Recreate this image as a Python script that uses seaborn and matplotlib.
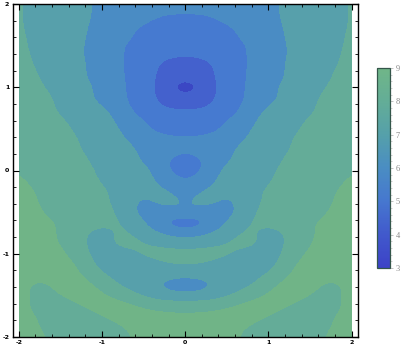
import numpy as np
import matplotlib
matplotlib.use("Agg")
import matplotlib.pyplot as plt
from matplotlib.colors import LinearSegmentedColormap, Normalize, ListedColormap, BoundaryNorm
from matplotlib.cm import ScalarMappable
from matplotlib.patches import Rectangle
from matplotlib.ticker import MultipleLocator
import seaborn as sns

# ---- data ----
x_vals = [-2.0, -1.75, -1.5, -1.25, -1.0, -0.75, -0.5, -0.25, 0.0,
          0.25, 0.5, 0.75, 1.0, 1.25, 1.5, 1.75, 2.0]
y_vals = [2.0, 1.875, 1.75, 1.625, 1.5, 1.375, 1.25, 1.125, 1.0, 0.875, 0.75,
          0.625, 0.5, 0.375, 0.25, 0.125, 0.0, -0.125, -0.25, -0.375, -0.5,
          -0.625, -0.75, -0.875, -1.0, -1.125, -1.25, -1.375, -1.5, -1.625,
          -1.75, -1.875, -2.0]
z_rows = [
    [7.7, 7, 7, 7, 6, 6, 6, 6, 6, 6, 6, 6, 6, 7, 7, 7, 7.7],
    [7.7, 7, 7, 7, 6, 6, 6, 5.5, 5.5, 5.5, 6, 6, 6, 7, 7, 7, 7.7],
    [7.7, 7, 7, 6.8, 6, 6, 5.5, 5, 5, 5, 5.5, 6, 6, 6.8, 7, 7, 7.7],
    [7.8, 7, 7, 6.7, 6, 6, 5, 5, 5, 5, 5, 6, 6, 6.7, 7, 7, 7.8],
    [7.9, 7, 7, 6.6, 6, 5.55, 5, 5, 5, 5, 5, 5.55, 6, 6.6, 7, 7, 7.9],
    [8, 7.1, 7, 6.6, 6, 5.55, 5, 4.7, 4.6, 4.7, 5, 5.55, 6, 6.6, 7, 7.1, 8],
    [8, 7.3, 7, 6.7, 6, 5.55, 5, 4.4, 4.2, 4.4, 5, 5.55, 6, 6.7, 7, 7.3, 8],
    [8, 7.5, 7, 6.7, 6, 5.55, 5, 4.3, 4.0, 4.3, 5, 5.55, 6, 6.7, 7, 7.5, 8],
    [8, 7.6, 7.2, 6.9, 6.2, 5.6, 5, 4.2, 3.3, 4.2, 5, 5.6, 6.2, 6.9, 7.2, 7.6, 8],
    [8.1, 7.8, 7.3, 6.9, 6.2, 5.6, 5, 4.3, 4.0, 4.3, 5, 5.6, 6.2, 6.9, 7.3, 7.8, 8.1],
    [8, 8, 7.3, 7, 6.65, 5.8, 5, 4.6, 4.5, 4.6, 5, 5.8, 6.65, 7, 7.3, 8, 8],
    [8, 8, 7.55, 7.2, 7.1, 6, 5.45, 5, 5, 5, 5.45, 6, 7.1, 7.2, 7.55, 8, 8],
    [8, 8, 7.8, 7.2, 7, 6.45, 5.7, 5.1, 5, 5.1, 5.7, 6.45, 7, 7.2, 7.8, 8, 8],
    [8, 8, 8, 7.4, 7, 6.6, 6, 5.8, 5.7, 5.8, 6, 6.6, 7, 7.4, 8, 8, 8],
    [8, 8, 8, 7.5, 7, 7, 6.2, 6, 5.6, 6, 6.2, 7, 7, 7.5, 8, 8, 8],
    [8.1, 8, 8, 7.8, 7, 7, 6.4, 5.6, 5, 5.6, 6.4, 7, 7, 7.8, 8, 8, 8.1],
    [8.35, 8, 8, 8, 7.2, 7, 7, 5.6, 5, 5.6, 7, 7, 7.2, 8, 8, 8, 8.35],
    [8.6, 8.1, 8, 8, 7.4, 7, 7, 6.2, 5.3, 6.2, 7, 7, 7.4, 8, 8, 8.1, 8.6],
    [8.7, 8.3, 8, 8, 7.7, 7.1, 6.55, 6.8, 6, 6.8, 6.55, 7.1, 7.7, 8, 8, 8.3, 8.7],
    [8.8, 8.35, 8, 8, 7.8, 7, 6.2, 7, 6.3, 7, 6.2, 7, 7.8, 8, 8, 8.35, 8.8],
    [8.8, 8.5, 8, 8, 8, 7.2, 6, 6, 6.6, 6, 6, 7.2, 8, 8, 8, 8.5, 8.8],
    [8.8, 8.7, 8.3, 8, 7.7, 7.6, 6.6, 5.4, 4.5, 5.4, 6.6, 7.6, 7.7, 8, 8.3, 8.7, 8.8],
    [8.8, 8.8, 8.3, 7.65, 7.1, 7.8, 7, 6.4, 6, 6.4, 7, 7.8, 7.1, 7.65, 8.3, 8.8, 8.8],
    [8.8, 8.8, 8.4, 7.65, 7, 8, 7.6, 7.2, 7, 7.2, 7.6, 8, 7, 7.65, 8.4, 8.8, 8.8],
    [8.8, 8.8, 8.7, 7.8, 7, 7, 7.7, 8, 7.9, 8, 7.7, 7, 7, 7.8, 8.7, 8.8, 8.8],
    [8.8, 8.8, 8.8, 8.3, 7, 7, 7, 7.4, 7.6, 7.4, 7, 7, 7, 8.3, 8.8, 8.8, 8.8],
    [8.8, 8.8, 8.8, 8.5, 7.6, 7, 7, 7, 7, 7, 7, 7, 7.6, 8.5, 8.8, 8.8, 8.8],
    [8.8, 8, 8.8, 8.8, 8.2, 7.3, 7, 6.2, 5.4, 6.2, 7, 7.3, 8.2, 8.8, 8.8, 8, 8.8],
    [8.8, 8, 8.4, 8.8, 8.6, 8, 7.4, 7, 7, 7, 7.4, 8, 8.6, 8.8, 8.4, 8, 8.8],
    [8.8, 8, 8, 8.4, 8.8, 8.8, 8.3, 8, 8, 8, 8.3, 8.8, 8.8, 8.4, 8, 8, 8.8],
    [8.8, 8.3, 8, 8, 8.4, 8.8, 8.8, 8.7, 8.6, 8.7, 8.8, 8.8, 8.4, 8, 8, 8.3, 8.8],
    [8.8, 8.4, 8, 8, 8, 8.4, 8.8, 8.8, 8.8, 8.8, 8.8, 8.4, 8, 8, 8, 8.4, 8.8],
    [8.8, 8.6, 8, 8, 8, 8.1, 8.8, 8.8, 8.8, 8.8, 8.8, 8.1, 8, 8, 8, 8.6, 8.8],
]
contour_levels = [3.0, 3.85, 4.6, 5.5, 6.5, 7.5, 8.4, 9.0]
band_colors = ["#3b47c4", "#4461cd", "#467ad0", "#4a8cc4",
               "#57a0ab", "#64ac98", "#70b487"]
cbar_values = [3, 4, 5, 6, 7, 8, 9]
cbar_colors = ["#3c42c7", "#4159cc", "#4677cf", "#4a8dc3",
               "#55a0aa", "#63ad97", "#70b688"]
tick_vals = [-2, -1, 0, 1, 2]

# ---- figure ----
sns.set_theme(style="white")
plt.rcParams['font.family'] = ['DejaVu Sans']

fig = plt.figure(figsize=(4.09, 3.5), dpi=100)
ax = fig.add_axes([12.7 / 409, 13.0 / 350, 345.3 / 409, 333.0 / 350])

Z = np.array(z_rows, dtype=float)
dx = abs(x_vals[1] - x_vals[0])
dy = abs(y_vals[1] - y_vals[0])
band_cmap = ListedColormap(band_colors)
band_norm = BoundaryNorm(contour_levels, band_cmap.N)
im = ax.imshow(Z, cmap=band_cmap, norm=band_norm, origin="upper",
               interpolation="bicubic", interpolation_stage="data",
               extent=[min(x_vals) - dx / 2, max(x_vals) + dx / 2,
                       min(y_vals) - dy / 2, max(y_vals) + dy / 2],
               aspect="auto")
clip = Rectangle((min(x_vals), min(y_vals)), max(x_vals) - min(x_vals),
                 max(y_vals) - min(y_vals), transform=ax.transData)
im.set_clip_path(clip)

ax.set_xlim(-2.072, 2.076)
ax.set_ylim(-2.0, 2.0)
ax.set_xticks(tick_vals)
ax.set_yticks(tick_vals)
ax.set_xticklabels([str(v) for v in tick_vals])
ax.set_yticklabels([str(v) for v in tick_vals])
ax.xaxis.set_minor_locator(MultipleLocator(0.2))
ax.yaxis.set_minor_locator(MultipleLocator(0.2))
ax.tick_params(which="both", direction="in", top=True, right=True,
               bottom=True, left=True, color="black")
ax.tick_params(which="major", length=4, width=0.8, labelsize=4.5,
               pad=2.5, labelcolor="black")
ax.tick_params(which="minor", length=2, width=0.6)
for lab in ax.get_xticklabels() + ax.get_yticklabels():
    lab.set_fontweight("bold")
for sp in ax.spines.values():
    sp.set_visible(True)
    sp.set_color("black")
    sp.set_linewidth(1.0)
ax.set_facecolor("white")

# ---- colour bar ----
cmap = LinearSegmentedColormap.from_list(
    "bar", [((v - 3) / 6.0, c) for v, c in zip(cbar_values, cbar_colors)])
cax = fig.add_axes([377.0 / 409, (350 - 268.0) / 350, 13.0 / 409, 200.0 / 350])
sm = ScalarMappable(norm=Normalize(3, 9), cmap=cmap)
cb = fig.colorbar(sm, cax=cax, ticks=cbar_values)
cb.outline.set_edgecolor("#34564a")
cb.outline.set_linewidth(0.9)
cax.yaxis.set_minor_locator(MultipleLocator(0.2))
cax.tick_params(which="major", length=2.5, width=0.5, color="#aaaaaa",
                labelsize=6, labelcolor="#888888", pad=1.5)
cax.tick_params(which="minor", length=1.5, width=0.5, color="#bbbbbb")
for lab in cax.get_yticklabels():
    lab.set_family(["Liberation Serif", "DejaVu Serif"])

fig.savefig("out.png", dpi=100, facecolor="white")
